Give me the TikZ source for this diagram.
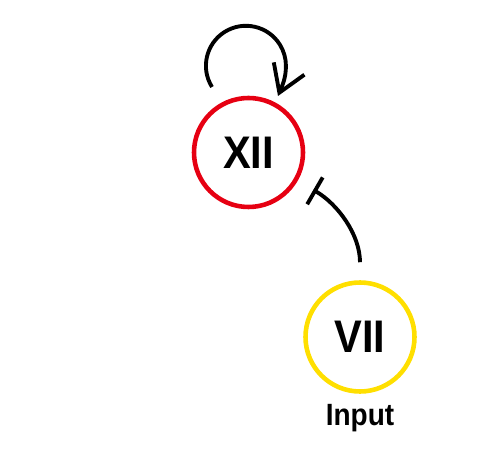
\documentclass[tikz,border=0pt]{standalone}
\usepackage{fontspec}
\setmainfont{Liberation Sans}
\usepackage{graphicx}
\usetikzlibrary{arrows.meta}
\definecolor{xiired}{HTML}{E60012}
\definecolor{viiyel}{HTML}{FFDF00}
\tikzset{
  state/.style={circle, line width=2.6pt, minimum size=2.18cm, inner sep=0pt,
    font=\bfseries\fontsize{26}{26}\selectfont},
  wire/.style={draw=black, line width=2.2pt, line cap=butt},
  act/.style={wire, -{Straight Barb[length=5.2mm,width=6.6mm,line width=2.2pt]}},
  inh/.style={wire, -{Bar[width=6.2mm,line width=2.2pt]}},
  lab/.style={font=\bfseries\fontsize{17.5}{18}\selectfont},
}
\newcommand{\narrow}[1]{\scalebox{0.91}[1]{#1}}

\begin{document}
\begin{tikzpicture}
  \useasboundingbox (0,0) rectangle (10,-9.28);
  \def\r{0.8}

  \node[state, draw=xiired] (XII) at (4.97,-3.05) {\narrow{XII}};
  \node[state, draw=viiyel] (VII) at (7.2,-6.74) {\narrow{VII}};
  \node[lab] (input) at (7.2,-8.37) {\narrow{Input}};
  \coordinate (looptip) at (5.56,-1.92);

  % self activation
  \draw[act] (XII.center) ++(-0.73,1.31) arc[start angle=212,end angle=0,radius=\r]
    to[out=-90,in=68] (looptip);

  % VII represses XII
  \draw[inh, shorten <=0.36cm, shorten >=0.36cm] (VII.north) to[out=90,in=-30] (XII.-30);
\end{tikzpicture}
\end{document}
